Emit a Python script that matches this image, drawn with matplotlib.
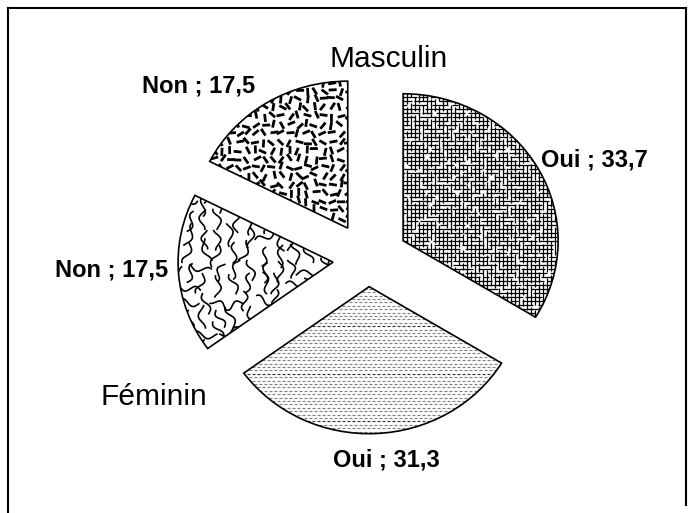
import numpy as np
import matplotlib
matplotlib.use("Agg")
import matplotlib.pyplot as plt
from matplotlib.collections import LineCollection
from matplotlib.patches import PathPatch
from matplotlib.lines import Line2D

# ---- data -------------------------------------------------------------
groups = ["Masculin", "Féminin", "Féminin", "Masculin"]
answers = ["Oui", "Oui", "Non", "Non"]
values = [33.7, 31.3, 17.5, 17.5]
explode = [0.26, 0.185, 0.226, 0.25]   # fraction of the radius
group_titles = ["Masculin", "Féminin"]

# ---- figure -----------------------------------------------------------
W, H = 693, 513
plt.rcParams['font.family'] = ['Liberation Sans', 'DejaVu Sans']
fig = plt.figure(figsize=(W / 100, H / 100), dpi=100)
ax = fig.add_axes([0, 0, 1, 1])

R = 155.0           # pie radius in data units (= px horizontally)
SY = 155.0 / 147.0  # vertical squash of the pie
cx, cy = 368.0, (H - 259.5) * SY

wedges, _ = ax.pie(values, explode=[e * R for e in explode], startangle=90,
                   counterclock=False, radius=R, center=(cx, cy), frame=True,
                   wedgeprops=dict(facecolor='white', edgecolor='none',
                                   linewidth=0, zorder=1))
ax.set_xlim(0, W)
ax.set_ylim(0, H * SY)
ax.set_aspect('auto')
ax.axis('off')


def hsh(a, b, s=0.0):
    """Deterministic hash in [0, 1) used for texture jitter."""
    v = np.sin(a * 12.9898 + b * 78.233 + s * 37.719) * 43758.5453
    return v - np.floor(v)


def add_texture(segs, wedge, color='black', lw=1.0, **kw):
    lc = LineCollection(segs, colors=color, linewidths=lw, zorder=2, **kw)
    ax.add_collection(lc)
    lc.set_clip_path(wedge)


def wedge_box(w):
    x0, y0 = w.center
    return x0 - R - 5, x0 + R + 5, y0 - R - 5, y0 + R + 5


# Masculin / Oui : irregular dense cross-hatching
w = wedges[0]
x0, x1, y0, y1 = wedge_box(w)
segs = []
step = 4.0
for i, yy in enumerate(np.arange(y0, y1, step * SY)):
    x = x0
    k = 0
    while x < x1:
        L = 6 + 26 * hsh(i, k, 1)
        g = 1 + 5 * hsh(i, k, 2)
        segs.append([(x, yy), (x + L, yy)])
        x += L + g
        k += 1
for j, xx in enumerate(np.arange(x0, x1, step)):
    y = y0
    k = 0
    while y < y1:
        L = (6 + 26 * hsh(j, k, 3)) * SY
        g = (1 + 5 * hsh(j, k, 4)) * SY
        segs.append([(xx, y), (xx, y + L)])
        y += L + g
        k += 1
add_texture(segs, w, lw=0.9)

# Féminin / Oui : fine grey dashed horizontals
w = wedges[1]
x0, x1, y0, y1 = wedge_box(w)
segs = []
dark = []
for i, yy in enumerate(np.arange(y0, y1, 3.4 * SY)):
    off = 2.5 * (i % 2)
    xs = np.arange(x0 - off, x1, 5.0)
    row = [[(x, yy), (x + 3.0, yy)] for x in xs]
    if i % 14 == 5:
        dark.extend(row)
    else:
        segs.extend(row)
add_texture(segs, w, color='#808080', lw=0.85)
add_texture(dark, w, color='#333333', lw=0.85)

# Féminin / Non : wavy squiggles
w = wedges[2]
x0, x1, y0, y1 = wedge_box(w)
segs = []
t = np.linspace(0, 1, 24)
for i, yy in enumerate(np.arange(y0, y1, 16 * SY)):
    for j, xx in enumerate(np.arange(x0, x1, 15)):
        px = xx + 7 * (hsh(i, j, 5) - 0.5)
        py = yy + 7 * (hsh(i, j, 6) - 0.5) * SY
        ang = np.pi / 2 + (hsh(i, j, 7) - 0.5) * 0.9
        if hsh(i, j, 8) < 0.2:
            ang -= np.pi / 2
        L = 19 + 5 * hsh(i, j, 9)
        s = (t - 0.5) * L
        n = 3.2 * np.sin(t * 2 * np.pi * 1.0 + hsh(i, j, 10) * 6)
        xs = px + s * np.cos(ang) - n * np.sin(ang)
        ys = py + (s * np.sin(ang) + n * np.cos(ang)) * SY
        segs.append(np.column_stack([xs, ys]))
add_texture(segs, w, lw=1.2)

# Masculin / Non : short thick dashes in scattered directions
w = wedges[3]
x0, x1, y0, y1 = wedge_box(w)
segs = []
for i, yy in enumerate(np.arange(y0, y1, 8.5 * SY)):
    for j, xx in enumerate(np.arange(x0, x1, 8.5)):
        px = xx + 4 * (hsh(i, j, 11) - 0.5)
        py = yy + 4 * (hsh(i, j, 12) - 0.5) * SY
        ang = np.pi * hsh(i, j, 13)
        L = 8.0
        dx, dy = 0.5 * L * np.cos(ang), 0.5 * L * np.sin(ang) * SY
        segs.append([(px - dx, py - dy), (px + dx, py + dy)])
add_texture(segs, w, lw=2.0, capstyle='butt')

# outlines on top of textures
for w in wedges:
    ax.add_patch(PathPatch(w.get_path(), transform=ax.transData, fill=False,
                           edgecolor='black', linewidth=1.2, zorder=3))

# ---- labels -----------------------------------------------------------
def px_text(x, y, s, **kw):
    fig.text(x / W, 1 - y / H, s, ha='center', va='baseline', **kw)


label_pos = [(594, 166), (386, 466), (112, 277), (199, 92)]
for (x, y), a, v in zip(label_pos, answers, values):
    px_text(x, y, f"{a} ; {v:.1f}".replace('.', ','), fontsize=17,
            fontweight='bold')

px_text(389, 67, group_titles[0], fontsize=21.5)
px_text(154, 405, group_titles[1], fontsize=21.5)

# ---- frame ------------------------------------------------------------
def px_line(xs, ys):
    fig.add_artist(Line2D([x / W for x in xs], [1 - y / H for y in ys],
                          color='black', linewidth=1.5,
                          solid_capstyle='projecting'))


px_line([7.5, 7.5], [7.5, 513])
px_line([7.5, 685.5], [7.5, 7.5])
px_line([685.5, 685.5], [7.5, 505])

fig.savefig("out.png", dpi=100)
